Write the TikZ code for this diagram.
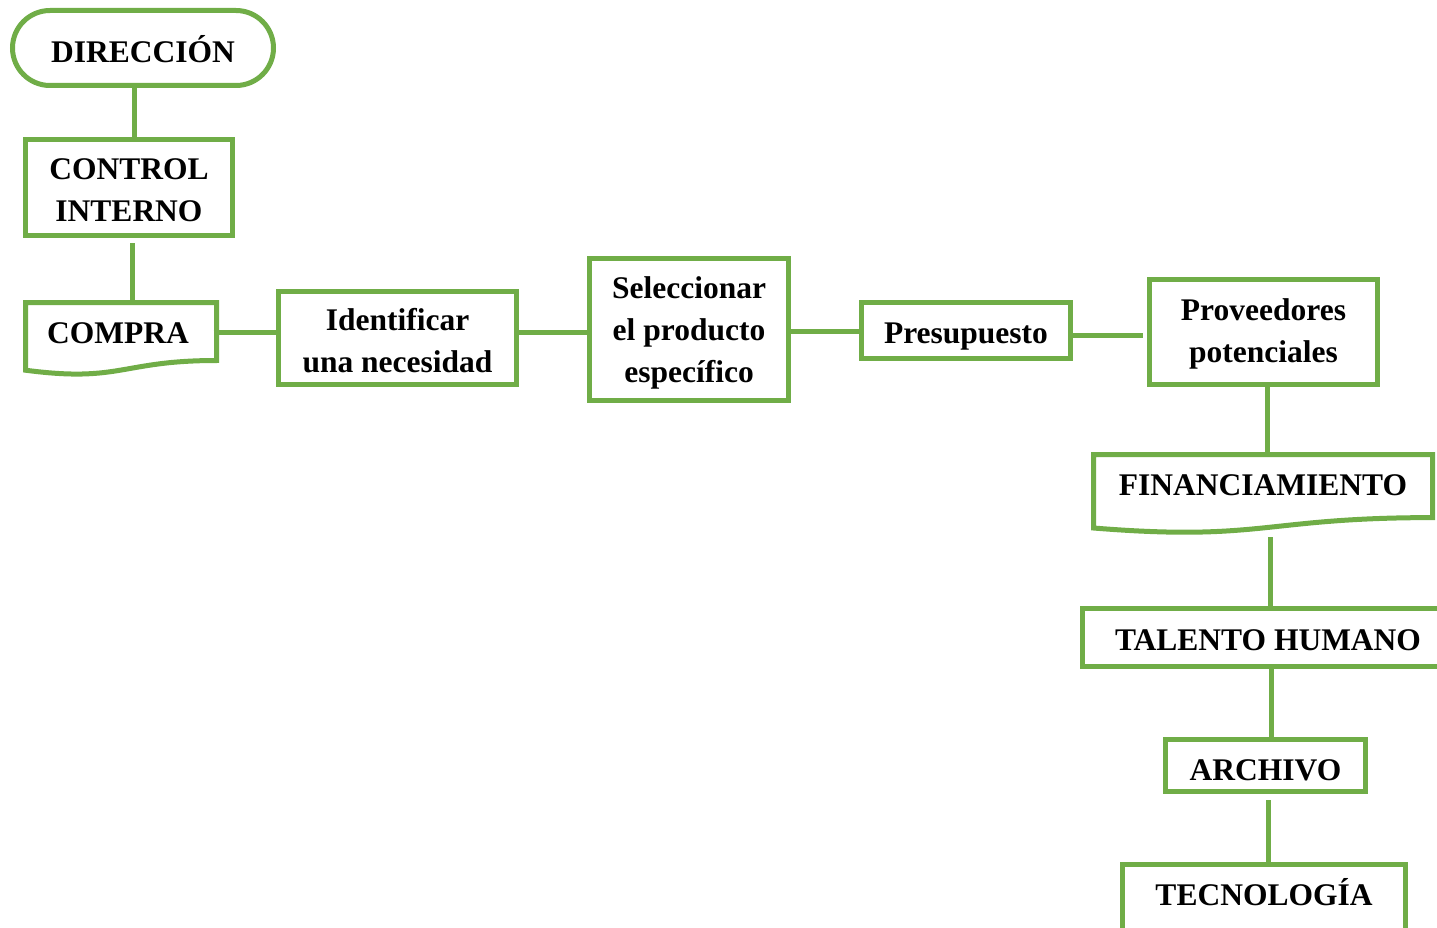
\documentclass[tikz,border=0pt]{standalone}
\usepackage{fontspec}
\setmainfont{Liberation Serif}
\usetikzlibrary{calc}
\definecolor{gr}{HTML}{70AD47}
% strut with height #1 above and depth #2 below the baseline
\newcommand\mystrut[2]{\rule[-#2]{0pt}{\dimexpr #1+#2\relax}}
\begin{document}
\begin{tikzpicture}[x=1pt,y=-1pt,
  txt/.style={inner sep=0pt, outer sep=0pt, align=center, font=\fontsize{31.5}{42}\selectfont\bfseries},
  box/.style={txt, draw=gr, line width=5pt, fill=white},
  ghost/.style={txt, draw=none, fill=none},
  ln/.style={draw=gr, line width=5pt}]
\useasboundingbox (0,0) rectangle (1437,928);
\clip (0,0) rectangle (1437,928);
% column / free-end coordinates
\coordinate (cA) at (134,0);
\coordinate (cB) at (132,243);
\coordinate (cC) at (1267,0);
\coordinate (cD) at (1270,537);
\coordinate (cE) at (1271,0);
\coordinate (cF) at (1268,800);
\coordinate (cG) at (1143,335);
% shapes
\node[box, rounded corners=37.5pt, minimum width=261pt, minimum height=75pt] (dir) at (143,48)
  {\mystrut{40pt}{10pt}DIRECCIÓN};
\node[box, minimum width=207pt, minimum height=96pt] (ctrl) at (129,187.5)
  {\mystrut{37pt}{0pt}CONTROL\\\mystrut{0pt}{10pt}INTERNO};
\draw[ln, fill=white] (25.5,302.5) -- (216.5,302.5) -- (216.5,360.5)
  .. controls (121,360.5) and (121,382.8) .. (25.5,370.2) -- cycle;
\node[ghost, minimum width=191pt, minimum height=61pt] (compra) at (118,333)
  {\mystrut{30pt}{10pt}COMPRA};
\node[box, minimum width=238pt, minimum height=93pt] (ident) at (397.5,338)
  {\mystrut{36pt}{0pt}Identificar\\\mystrut{0pt}{10pt}una necesidad};
\node[box, minimum width=199pt, minimum height=142pt] (sel) at (689,329.5)
  {\mystrut{31pt}{0pt}Seleccionar\\el producto\\\mystrut{0pt}{10pt}específico};
\node[box, minimum width=209pt, minimum height=56pt] (pres) at (966,330.5)
  {\mystrut{35pt}{10pt}Presupuesto};
\node[box, minimum width=228pt, minimum height=105pt] (prov) at (1263.5,332)
  {\mystrut{28pt}{0pt}Proveedores\\\mystrut{0pt}{10pt}potenciales};
\draw[ln, fill=white] (1093.5,454.5) -- (1432.5,454.5) -- (1432.5,517.6)
  .. controls (1263,517.6) and (1263,541.7) .. (1093.5,528) -- cycle;
\node[ghost, minimum width=339pt, minimum height=59pt] (finshape) at (1263,484)
  {\mystrut{32pt}{10pt}FINANCIAMIENTO};
\node[box, minimum width=371pt, minimum height=58pt] (tal) at (1268,637.5)
  {\mystrut{35pt}{10pt}TALENTO HUMANO};
\node[box, minimum width=200pt, minimum height=52pt] (arch) at (1265.5,765.5)
  {\mystrut{39pt}{10pt}ARCHIVO};
\node[box, minimum width=283pt, minimum height=70pt] (tec) at (1264,899.5)
  {\mystrut{31pt}{20pt}TECNOLOGÍA};
% connectors
\draw[ln] (dir.south -| cA) -- (ctrl.north -| cA);
\draw[ln] (cB) -- (cB |- compra.north);
\draw[ln] (compra.east |- 0,332) -- (ident.west |- 0,332);
\draw[ln] (ident.east |- 0,332) -- (sel.west |- 0,332);
\draw[ln] (sel.east |- 0,331) -- (pres.west |- 0,331);
\draw[ln] (pres.east |- cG) -- (cG);
\draw[ln] (prov.south -| cC) -- (finshape.north -| cC);
\draw[ln] (cD) -- (cD |- tal.north);
\draw[ln] (tal.south -| cE) -- (arch.north -| cE);
\draw[ln] (cF) -- (cF |- tec.north);
\end{tikzpicture}
\end{document}
